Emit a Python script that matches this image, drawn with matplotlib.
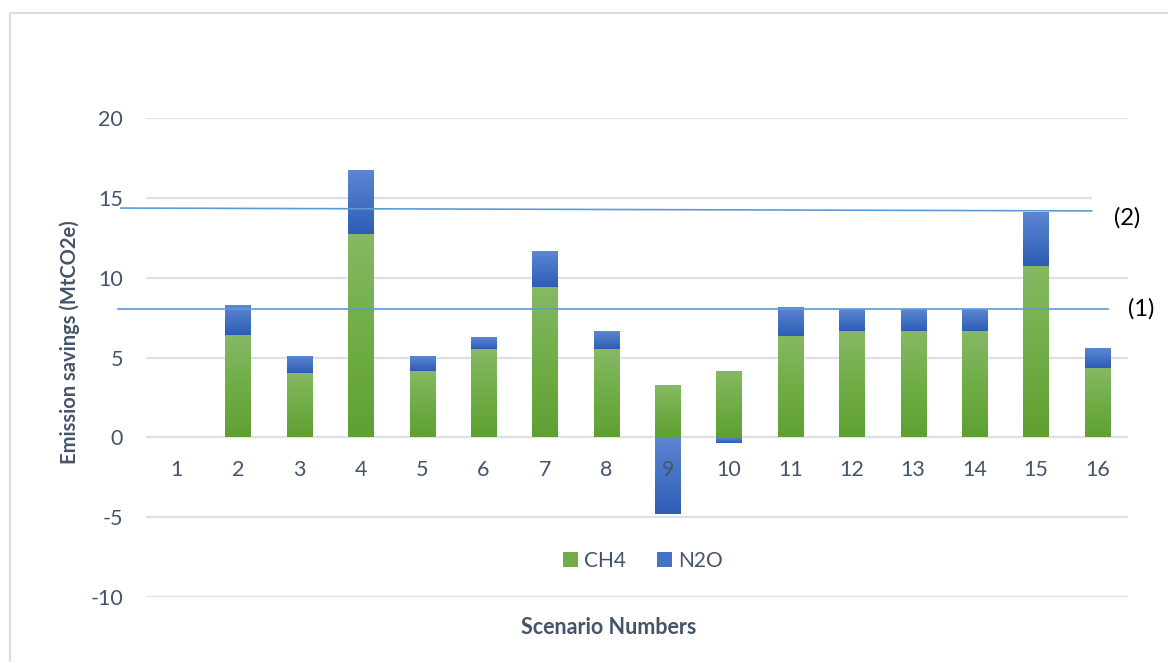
import matplotlib
matplotlib.use('Agg')
import matplotlib.pyplot as plt
import numpy as np
from matplotlib.colors import LinearSegmentedColormap
from matplotlib.patches import Rectangle, Patch
import matplotlib.transforms as mtransforms

plt.rcParams['font.family'] = ['Lato', 'DejaVu Sans']

### Data
scenarios = [str(i) for i in range(1, 17)]
ch4 = [0, 6.40, 4.02, 12.74, 4.14, 5.52, 9.41, 5.52, 3.20, 4.08, 6.34, 6.65, 6.65, 6.65, 10.73, 4.33]
n2o = [0, 1.82, 1.06, 3.96, 0.88, 0.69, 2.20, 1.07, -4.81, -0.36, 1.76, 1.32, 1.32, 1.32, 3.33, 1.19]
ref_levels = [8.06, 14.27]
ref_labels = ['(1)', '(2)']
y_ticks = [-10, -5, 0, 5, 10, 15, 20]

text_col = '#44546A'
grid_col = '#DDE1E7'
line_col = '#5B9BD5'
green = ['#5FA032', '#70AD47', '#86B964']   # bottom -> top
blue = ['#2E5DB6', '#4472C4', '#5E86D1']

fig = plt.figure(figsize=(11.68, 6.62), dpi=100)
ax = fig.add_axes([146/1168, 1 - 597/662, 982/1168, 479/662])

x = np.arange(len(scenarios))
width = 0.41
ch4 = np.array(ch4)
n2o = np.array(n2o)
n2o_bottom = np.where(n2o >= 0, ch4, 0)

bars_ch4 = ax.bar(x, ch4, width, color='none', zorder=2)
bars_n2o = ax.bar(x, n2o, width, bottom=n2o_bottom, color='none', zorder=2)

# gradient fill per bar (lighter at the top like the office chart)
def grad_fill(bars, colours):
    cmap = LinearSegmentedColormap.from_list('g', colours)
    grad = np.linspace(0, 1, 256).reshape(-1, 1)
    for b in bars:
        h = b.get_height()
        if h == 0:
            continue
        y0 = min(b.get_y(), b.get_y() + h)
        y1 = max(b.get_y(), b.get_y() + h)
        ax.imshow(grad, cmap=cmap, origin='lower', aspect='auto', zorder=2,
                  extent=[b.get_x(), b.get_x() + b.get_width(), y0, y1])

grad_fill(bars_ch4, green)
grad_fill(bars_n2o, blue)

ax.set_xlim(-0.5, len(scenarios) - 0.5)
ax.set_ylim(-10, 20)
ax.set_yticks(y_ticks)
ax.set_yticklabels([str(t) for t in y_ticks])
ax.set_xticks(x)
ax.set_xticklabels(scenarios)
ax.yaxis.grid(True, color=grid_col, linewidth=1.6)
ax.set_axisbelow(True)
ax.xaxis.set_zorder(3)   # category labels sit on top of the bars (see "9")
for s in ax.spines.values():
    s.set_visible(False)
ax.spines['bottom'].set_position(('data', 0))
ax.tick_params(axis='x', length=0, pad=16, labelsize=15.5, labelcolor=text_col)
ax.tick_params(axis='y', length=0, pad=16.5, labelsize=15.5, labelcolor=text_col)

# reference lines (1) and (2), running out past the plot area
trans = mtransforms.blended_transform_factory(ax.transAxes, ax.transData)
ax.plot([-0.0285, 0.98], [ref_levels[0], ref_levels[0]], color=line_col, lw=1.2,
        transform=trans, clip_on=False, zorder=3)
ax.plot([-0.0255, 0.963], [ref_levels[1] + 0.09, ref_levels[1] - 0.09], color=line_col, lw=1.2,
        transform=trans, clip_on=False, zorder=3)
ax.add_patch(Rectangle((0.963, ref_levels[1] + 0.3), 0.1, 2.5, transform=trans,
                       facecolor='white', edgecolor='none', clip_on=False, zorder=1))
ax.text(1.0132, ref_levels[0], ref_labels[0], transform=trans, ha='center', va='center',
        fontsize=17, color='black', clip_on=False)
ax.text(0.9995, ref_levels[1] - 0.53, ref_labels[1], transform=trans, ha='center', va='center',
        fontsize=17, color='black', clip_on=False)

# axis titles
fig.text(70/1168, 1 - 342/662, 'Emission savings (MtCO2e)', rotation=90, ha='center', va='center',
         fontsize=14.5, fontweight='bold', color=text_col)
fig.text(609/1168, 1 - 628/662, 'Scenario Numbers', ha='center', va='center',
         fontsize=15.5, fontweight='bold', color=text_col)

handles = [Patch(facecolor=green[1], label='CH4'), Patch(facecolor=blue[1], label='N2O')]
fig.legend(handles=handles, loc='center', bbox_to_anchor=(643/1168, 1 - 561/662), ncol=2,
           frameon=False, fontsize=15, labelcolor=text_col, handlelength=0.7, handleheight=0.7,
           handletextpad=0.3, columnspacing=1.5)

# chart area border
fig.add_artist(Rectangle((10/1168, -0.1), 1.2, 1.1 - 13/662, transform=fig.transFigure,
                         facecolor='none', edgecolor='#D9DEE5', lw=1.5))

fig.savefig('out.png', dpi=100)
